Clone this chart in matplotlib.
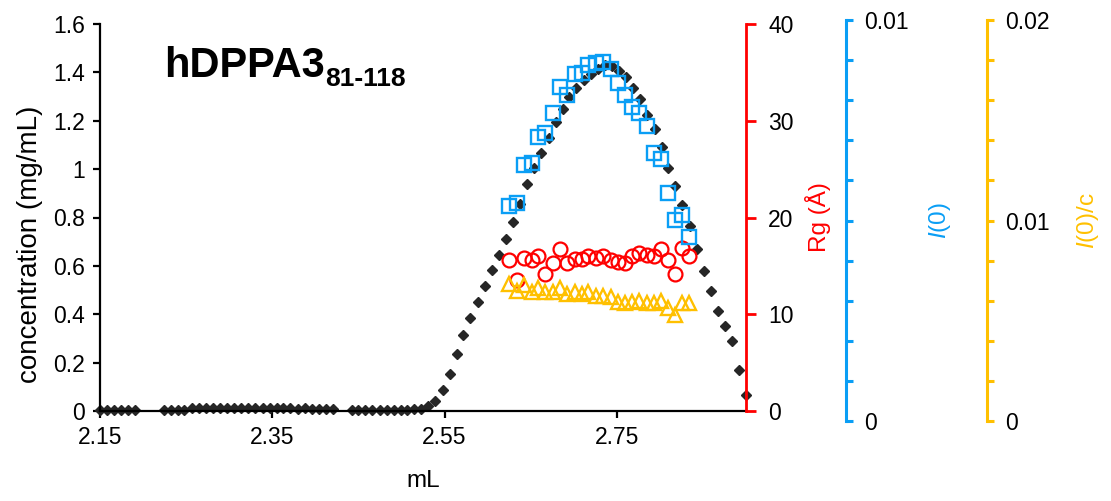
import matplotlib.pyplot as plt
from matplotlib.ticker import MultipleLocator

plt.rcParams['font.family'] = ['Liberation Sans', 'DejaVu Sans']
plt.rcParams['mathtext.fontset'] = 'custom'
plt.rcParams['mathtext.rm'] = 'Liberation Sans'
plt.rcParams['mathtext.it'] = 'Liberation Sans:italic'

# elution volume (mL) and concentration (mg/mL)
vol = [2.150, 2.158, 2.166, 2.174, 2.183, 2.191,
       2.224, 2.232, 2.240, 2.248, 2.257, 2.265, 2.273, 2.281, 2.289, 2.298,
       2.306, 2.314, 2.322, 2.330, 2.339, 2.347, 2.355, 2.363, 2.371, 2.380,
       2.388, 2.396, 2.404, 2.412, 2.421,
       2.442, 2.450, 2.458, 2.466, 2.475, 2.483, 2.491, 2.499, 2.507, 2.515,
       2.523, 2.531, 2.539, 2.548, 2.556, 2.564, 2.572, 2.580, 2.589, 2.597,
       2.605, 2.613, 2.621, 2.630, 2.638, 2.646, 2.654, 2.662, 2.671, 2.679,
       2.687, 2.695, 2.703, 2.712, 2.720, 2.728, 2.736, 2.744, 2.753, 2.761,
       2.769, 2.777, 2.785, 2.794, 2.802, 2.810, 2.818, 2.826, 2.835, 2.843,
       2.851, 2.859, 2.867, 2.876, 2.884, 2.892, 2.900]
conc = [0.004, 0.004, 0.004, 0.004, 0.004, 0.004,
        0.004, 0.004, 0.005, 0.006, 0.012, 0.012, 0.013, 0.012, 0.013, 0.012,
        0.012, 0.012, 0.011, 0.012, 0.012, 0.013, 0.012, 0.011, 0.011, 0.010,
        0.011, 0.010, 0.009, 0.009, 0.008,
        0.004, 0.004, 0.004, 0.004, 0.004, 0.005, 0.005, 0.005, 0.006, 0.007,
        0.008, 0.022, 0.040, 0.085, 0.155, 0.235, 0.315, 0.385, 0.450, 0.515,
        0.585, 0.645, 0.710, 0.780, 0.855, 0.940, 1.005, 1.068, 1.130, 1.195,
        1.250, 1.300, 1.335, 1.370, 1.395, 1.415, 1.430, 1.425, 1.405, 1.380,
        1.335, 1.290, 1.225, 1.165, 1.090, 1.005, 0.930, 0.850, 0.765, 0.670,
        0.580, 0.497, 0.415, 0.350, 0.290, 0.170, 0.066]

# SAXS frames: Rg, I(0), I(0)/c
saxs_vol = [2.625, 2.634, 2.642, 2.651, 2.659, 2.667, 2.676, 2.684, 2.692,
            2.701, 2.710, 2.717, 2.726, 2.734, 2.743, 2.751, 2.759, 2.768,
            2.776, 2.785, 2.793, 2.801, 2.810, 2.817, 2.826, 2.834]
rg = [15.6, 13.5, 15.8, 15.6, 16.0, 14.2, 15.3, 16.7, 15.3, 15.7, 15.7, 16.0,
      15.8, 16.0, 15.6, 15.4, 15.3, 16.0, 16.3, 16.1, 16.0, 16.7, 15.6, 14.2,
      16.8, 16.0]
i0 = [0.00537, 0.00543, 0.00638, 0.00644, 0.00708, 0.00719, 0.00769,
      0.00834, 0.00813, 0.00865, 0.00867, 0.00888, 0.00894, 0.00896,
      0.00878, 0.00843, 0.00813, 0.00782, 0.00769, 0.00736, 0.00668,
      0.00653, 0.00569, 0.00501, 0.00514, 0.00458]
i0c = [0.00682, 0.00646, 0.00678, 0.00645, 0.00662, 0.00645, 0.00645,
       0.00662, 0.00632, 0.00642, 0.00632, 0.00642, 0.00625, 0.00625,
       0.00620, 0.00595, 0.00587, 0.00595, 0.00599, 0.00587, 0.00587,
       0.00599, 0.00565, 0.00529, 0.00591, 0.00591]

x_ticks = [2.15, 2.35, 2.55, 2.75]
x_labels = ['2.15', '2.35', '2.55', '2.75']
conc_ticks = [0, 0.2, 0.4, 0.6, 0.8, 1.0, 1.2, 1.4, 1.6]
conc_labels = ['0', '0.2', '0.4', '0.6', '0.8', '1', '1.2', '1.4', '1.6']
rg_ticks = [0, 10, 20, 30, 40]
i0_ticks = [0, 0.01]
i0_labels = ['0', '0.01']
i0c_ticks = [0, 0.01, 0.02]
i0c_labels = ['0', '0.01', '0.02']

RED = '#FF0000'
BLUE = '#0A9EF5'
GOLD = '#FFC000'
TICK_FS = 16.5
LABEL_FS = 17.5
W, H = 1111, 501


def box(x0, y0, x1, y1):
    return [x0 / W, 1 - y1 / H, (x1 - x0) / W, (y1 - y0) / H]


fig = plt.figure(figsize=(W / 100, H / 100), dpi=100)

# concentration
ax = fig.add_axes(box(100, 24, 746, 411))
ax.plot(vol, conc, 'D', color='#262626', ms=5.6, clip_on=False)
ax.set_xlim(2.15, 2.9)
ax.set_ylim(0, 1.6)
ax.set_xticks(x_ticks, x_labels)
ax.set_yticks(conc_ticks, conc_labels)
ax.spines[['top', 'right']].set_visible(False)
for s in ['left', 'bottom']:
    ax.spines[s].set_linewidth(1.6)
ax.tick_params(direction='out', length=5, width=1.6, labelsize=TICK_FS, pad=6)
ax.set_xlabel('mL', fontsize=LABEL_FS, va='center')
ax.xaxis.set_label_coords(0.5, -0.18)
ax.set_ylabel('concentration (mg/mL)', fontsize=20, va='center')
ax.yaxis.set_label_coords(-0.108, 0.43)

# Rg
ax_rg = ax.twinx()
ax_rg.plot(saxs_vol, rg, 'o', mfc='none', mec=RED, mew=1.6, ms=10)
ax_rg.set_ylim(0, 40)
ax_rg.set_yticks(rg_ticks)
for s in ['top', 'left', 'bottom']:
    ax_rg.spines[s].set_visible(False)
ax_rg.spines['right'].set_color(RED)
ax_rg.spines['right'].set_linewidth(2)
ax_rg.tick_params(direction='out', length=7, width=2, color=RED,
                  labelcolor='black', labelsize=TICK_FS, pad=9)
ax_rg.set_ylabel('Rg (Å)', color=RED, fontsize=LABEL_FS, va='center')
ax_rg.yaxis.set_label_coords((818 - 100) / 646, 0.5)


def extra_axis(spine_x, color):
    a = fig.add_axes(box(100, 20, 746, 421))
    a.patch.set_visible(False)
    a.set_xlim(2.15, 2.9)
    a.xaxis.set_visible(False)
    for s in ['top', 'left', 'bottom']:
        a.spines[s].set_visible(False)
    a.spines['right'].set_position(('axes', (spine_x - 100) / 646))
    a.spines['right'].set_color(color)
    a.spines['right'].set_linewidth(2.2)
    a.yaxis.tick_right()
    a.yaxis.set_label_position('right')
    a.tick_params(which='both', direction='out', length=5, width=2.2,
                  color=color, labelcolor='black', labelsize=TICK_FS, pad=8)
    return a


# I(0)
ax_i0 = extra_axis(846, BLUE)
ax_i0.plot(saxs_vol, i0, 's', mfc='none', mec=BLUE, mew=1.7, ms=10.5)
ax_i0.set_ylim(0, 0.01)
ax_i0.set_yticks(i0_ticks, i0_labels)
ax_i0.yaxis.set_minor_locator(MultipleLocator(0.001))
ax_i0.set_ylabel(r'$\mathit{I}$(0)', color=BLUE, fontsize=LABEL_FS, va='center')
ax_i0.yaxis.set_label_coords((940 - 100) / 646, 0.5)

# I(0)/c
ax_i0c = extra_axis(987, GOLD)
ax_i0c.plot(saxs_vol, i0c, '^', mfc='none', mec=GOLD, mew=1.7, ms=10.5)
ax_i0c.set_ylim(0, 0.02)
ax_i0c.set_yticks(i0c_ticks, i0c_labels)
ax_i0c.yaxis.set_minor_locator(MultipleLocator(0.002))
ax_i0c.set_ylabel(r'$\mathit{I}$(0)/c', color=GOLD, fontsize=LABEL_FS,
                  va='center')
ax_i0c.yaxis.set_label_coords((1088 - 100) / 646, 0.5)

# title with subscript
fig.text(164 / W, 1 - 77 / H, 'hDPPA3', fontsize=30, fontweight='bold',
         va='baseline')
fig.text(325 / W, 1 - 86 / H, '81-118', fontsize=19, fontweight='bold',
         va='baseline')

fig.savefig('out.png', dpi=100)
